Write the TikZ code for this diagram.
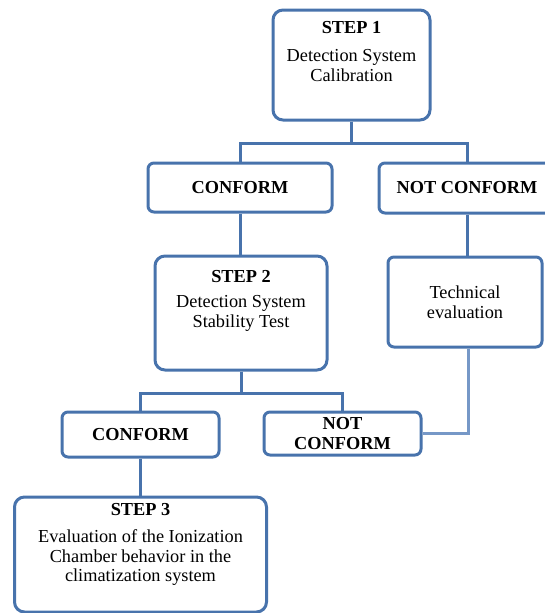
\documentclass[tikz,border=0pt]{standalone}
\usepackage{fontspec}
\setmainfont{Liberation Serif}
\usetikzlibrary{positioning}
\definecolor{boxblue}{RGB}{72,115,172}
\definecolor{lineblue}{RGB}{118,152,199}

\begin{document}
\begin{tikzpicture}[x=1pt,y=-1pt,line width=3pt,
	box/.style={rectangle,draw=boxblue,rounded corners=6pt,align=center,inner sep=0pt,font=\fontsize{18.3}{19.5}\selectfont},
	stepbox/.style={rectangle,draw=boxblue,rounded corners=10pt},
	steptext/.style={align=center,inner sep=0pt,font=\fontsize{18.3}{19.5}\selectfont},
	link/.style={draw=boxblue}]

		  \useasboundingbox (0,0) rectangle (544,613);

		  % step 1 and its answers
		  \node[stepbox,minimum width=157pt,minimum height=110pt] (S1) at (351.5,65) {};
		  \node[steptext] (S1txt) [below=11pt of S1.north] {\textbf{STEP 1}\\[9pt]Detection System\\Calibration};
		  \node[box,minimum width=184pt,minimum height=49pt] (C1) [below left=122.5pt and 111.5pt of S1.center,anchor=center] {\textbf{CONFORM}};
		  \node[box,minimum width=176pt,minimum height=50pt] (N1) [below right=123pt and 115.5pt of S1.center,anchor=center] {\textbf{NOT CONFORM}};

		  % step 2 and technical evaluation
		  \node[stepbox,minimum width=172pt,minimum height=114pt] (S2) [below right=125.5pt and 1pt of C1.center,anchor=center] {};
		  \node[steptext] (S2txt) [below=14pt of S2.north] {\textbf{STEP 2}\\[6pt]Detection System\\Stability Test};
		  \node[box,minimum width=154pt,minimum height=90pt] (TE) [below left=114pt and 2pt of N1.center,anchor=center] {Technical\\evaluation};
		  \node[box,minimum width=157pt,minimum height=45pt] (C2) [below left=121.5pt and 100.5pt of S2.center,anchor=center] {\textbf{CONFORM}};
		  \node[box,minimum width=157pt,minimum height=43pt] (N2) [below right=120.5pt and 101.5pt of S2.center,anchor=center] {\textbf{NOT}\\\textbf{CONFORM}};

		  % step 3
		  \node[stepbox,minimum width=252pt,minimum height=115pt] (S3) [below=120pt of C2.center,anchor=center] {};
		  \node[steptext] (S3txt) [below=6pt of S3.north] {\textbf{STEP 3}\\[8pt]Evaluation of the Ionization\\Chamber behavior in the\\climatization system};

		  \draw[link] (S1.south) -- ++(0,22) -| (C1.north);
		  \draw[link] (S1.south) -- ++(0,22) -| (N1.north);
		  \draw[link] (C1.south) -- (C1.south |- S2.north);
		  \draw[link] (N1.south) -- (N1.south |- TE.north);
		  \draw[link] (S2.south) -- ++(0,22) -| (C2.north);
		  \draw[link] (S2.south) -- ++(0,22) -| (N2.north);
		  \draw[link] (C2.south) -- (C2.south |- S3.north);
		  \draw[link,draw=lineblue] ([xshift=3pt]TE.south) |- (N2.east);

\end{tikzpicture}
\end{document}
